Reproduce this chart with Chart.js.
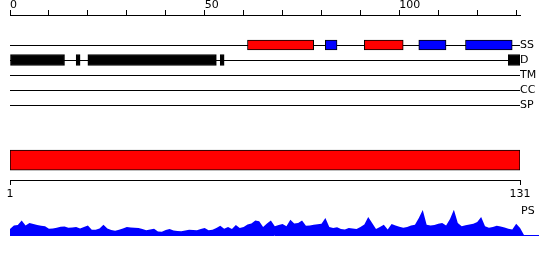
<!DOCTYPE html>
<html>
<head>
<meta charset="utf-8">
<script src="https://cdn.jsdelivr.net/npm/chart.js@4"></script>
<style>
  body { margin: 0; background: #fff; }
  #wrap { position: relative; width: 550px; height: 260px; }
  #tracks { position: absolute; left: 0; top: 0; }
  #ps { position: absolute; left: 0; top: 195px; }
</style>
</head>
<body>
<div id="wrap">
  <canvas id="tracks" width="550" height="205"></canvas>
  <canvas id="ps" width="550" height="45"></canvas>
</div>
<script>
const seqLength = 131;
const trackNames = ['SS', 'D', 'TM', 'CC', 'SP'];

// segments as [start, end] along the sequence
const helixSegments = [[61, 78], [91, 101]];
const strandSegments = [[81, 84], [105, 112], [117, 129]];
const disorderSegments = [[0, 14], [17, 18], [20, 53], [54, 55], [128, 131]];
const domainSegments = [[1, 131]];

const topTicks = [0, 10, 20, 30, 40, 50, 60, 70, 80, 90, 100, 110, 120, 130];
const topLabels = [0, 50, 100];
const bottomTicks = [1, 131];

// PS score per residue (0..132)
const psScores = [
  6, 9.5, 10, 14.5, 9.5, 12, 11, 10, 9.3, 8.7,
  6.3, 6.5, 7.2, 8.3, 8.5, 7.3, 7.6, 8, 6.5, 8,
  9.5, 5.3, 5.3, 6.5, 10.3, 6.5, 5, 4.3, 5.3, 6.5,
  8, 7.5, 7.3, 7, 6, 4.7, 5.5, 6.3, 3.5, 3.3,
  5, 6, 4.5, 4, 3.7, 4.5, 5.3, 5, 4.7, 6,
  7, 4.7, 5.3, 7, 9.3, 6.3, 8, 6, 10, 7,
  8, 10.5, 11.5, 14.5, 13.7, 8, 11.5, 14.5, 8.7, 10,
  11, 8.7, 15.3, 11.5, 12, 14.5, 9.3, 9.5, 10.3, 10.8,
  11.3, 17, 8, 7, 7.7, 6, 5.5, 7, 6.5, 6,
  8, 10.5, 18, 12, 6, 8, 10.3, 5.5, 11, 9.5,
  8.3, 7.3, 8, 9.5, 10.3, 17, 25, 10.3, 9.5, 10,
  11.3, 12, 9.5, 16, 25.3, 12, 8.7, 9.8, 10.5, 11.3,
  13, 18, 8.7, 7.2, 8, 9.3, 8.5, 7.5, 6.3, 5.5,
  11.3, 7, 0
];

const domainRow = 7.67;

Chart.defaults.font.family = 'DejaVu Sans';
Chart.defaults.font.size = 11;
Chart.defaults.color = '#000';

const trackLines = {
  id: 'trackLines',
  beforeDatasetsDraw(chart) {
    const { ctx, chartArea, scales } = chart;
    ctx.save();
    ctx.strokeStyle = '#000';
    ctx.lineWidth = 1;
    trackNames.forEach((name, i) => {
      const y = Math.floor(scales.y.getPixelForValue(i)) + 0.5;
      ctx.beginPath();
      ctx.moveTo(chartArea.left, y);
      ctx.lineTo(chartArea.right, y);
      ctx.stroke();
    });
    ctx.restore();
  }
};

function segmentBars(segments, row, color, thickness, axis) {
  return {
    data: segments.map(s => ({ x: s, y: row })),
    backgroundColor: color,
    borderColor: '#000',
    borderWidth: 1,
    borderSkipped: false,
    barThickness: thickness,
    stack: 'rows',
    xAxisID: axis || 'x'
  };
}

new Chart(document.getElementById('tracks'), {
  type: 'bar',
  data: {
    datasets: [
      segmentBars(helixSegments, 0, '#ff0000', 10),
      segmentBars(strandSegments, 0, '#0000ff', 10),
      segmentBars(disorderSegments, 1, '#000000', 11),
      segmentBars(domainSegments, domainRow, '#ff0000', 20, 'x2')
    ]
  },
  options: {
    indexAxis: 'y',
    responsive: false,
    animation: false,
    devicePixelRatio: 1,
    layout: { padding: { left: 10, right: 0, top: 0, bottom: 0 } },
    plugins: { legend: { display: false }, tooltip: { enabled: false } },
    scales: {
      x: {
        type: 'linear', position: 'top', min: 0, max: seqLength,
        offset: false, stacked: false,
        afterBuildTicks: s => { s.ticks = topTicks.map(v => ({ value: v })); },
        afterFit: s => { s.height = 15; },
        grid: { drawOnChartArea: false, tickLength: 5, color: '#000', lineWidth: 1 },
        border: { color: '#000', width: 1 },
        ticks: {
          align: 'start', padding: -2, maxRotation: 0, autoSkip: false,
          callback: v => topLabels.includes(v) ? String(v) : ''
        }
      },
      x2: {
        type: 'linear', position: 'bottom', min: 1, max: seqLength,
        offset: false, stacked: false,
        afterBuildTicks: s => { s.ticks = bottomTicks.map(v => ({ value: v })); },
        afterFit: s => { s.height = 25; },
        grid: { drawOnChartArea: false, tickLength: 5, color: '#000', lineWidth: 1 },
        border: { color: '#000', width: 1 },
        ticks: { padding: 3, maxRotation: 0, autoSkip: false }
      },
      y: {
        type: 'linear', position: 'right', reverse: true, min: -2, max: 9,
        offset: false,
        afterBuildTicks: s => { s.ticks = trackNames.map((n, i) => ({ value: i })); },
        afterFit: s => { s.width = 30; },
        grid: { display: false, drawTicks: false },
        border: { display: false },
        ticks: { padding: 0, callback: v => trackNames[v] }
      }
    }
  },
  plugins: [trackLines]
});

const psLabel = {
  id: 'psLabel',
  afterDraw(chart) {
    const { ctx } = chart;
    ctx.save();
    ctx.fillStyle = '#000';
    ctx.font = '11px "DejaVu Sans"';
    ctx.textAlign = 'left';
    ctx.textBaseline = 'middle';
    ctx.fillText('PS', 521, 16);
    ctx.restore();
  }
};

new Chart(document.getElementById('ps'), {
  type: 'line',
  data: {
    datasets: [{
      data: psScores.map((v, i) => ({ x: i, y: v })),
      backgroundColor: '#0000ff',
      borderWidth: 0,
      pointRadius: 0,
      fill: 'origin',
      tension: 0
    }]
  },
  options: {
    responsive: false,
    animation: false,
    devicePixelRatio: 1,
    layout: { padding: { left: 10, right: 12, top: 0, bottom: 5 } },
    plugins: { legend: { display: false }, tooltip: { enabled: false } },
    scales: {
      x: {
        type: 'linear', min: 0, max: 135.6,
        ticks: { display: false },
        grid: { display: false, drawTicks: false },
        border: { display: true, color: '#0000ff', width: 1 },
        afterFit: s => { s.height = 0; }
      },
      y: {
        display: false, min: 0, max: 40
      }
    }
  },
  plugins: [psLabel]
});
</script>
</body>
</html>
